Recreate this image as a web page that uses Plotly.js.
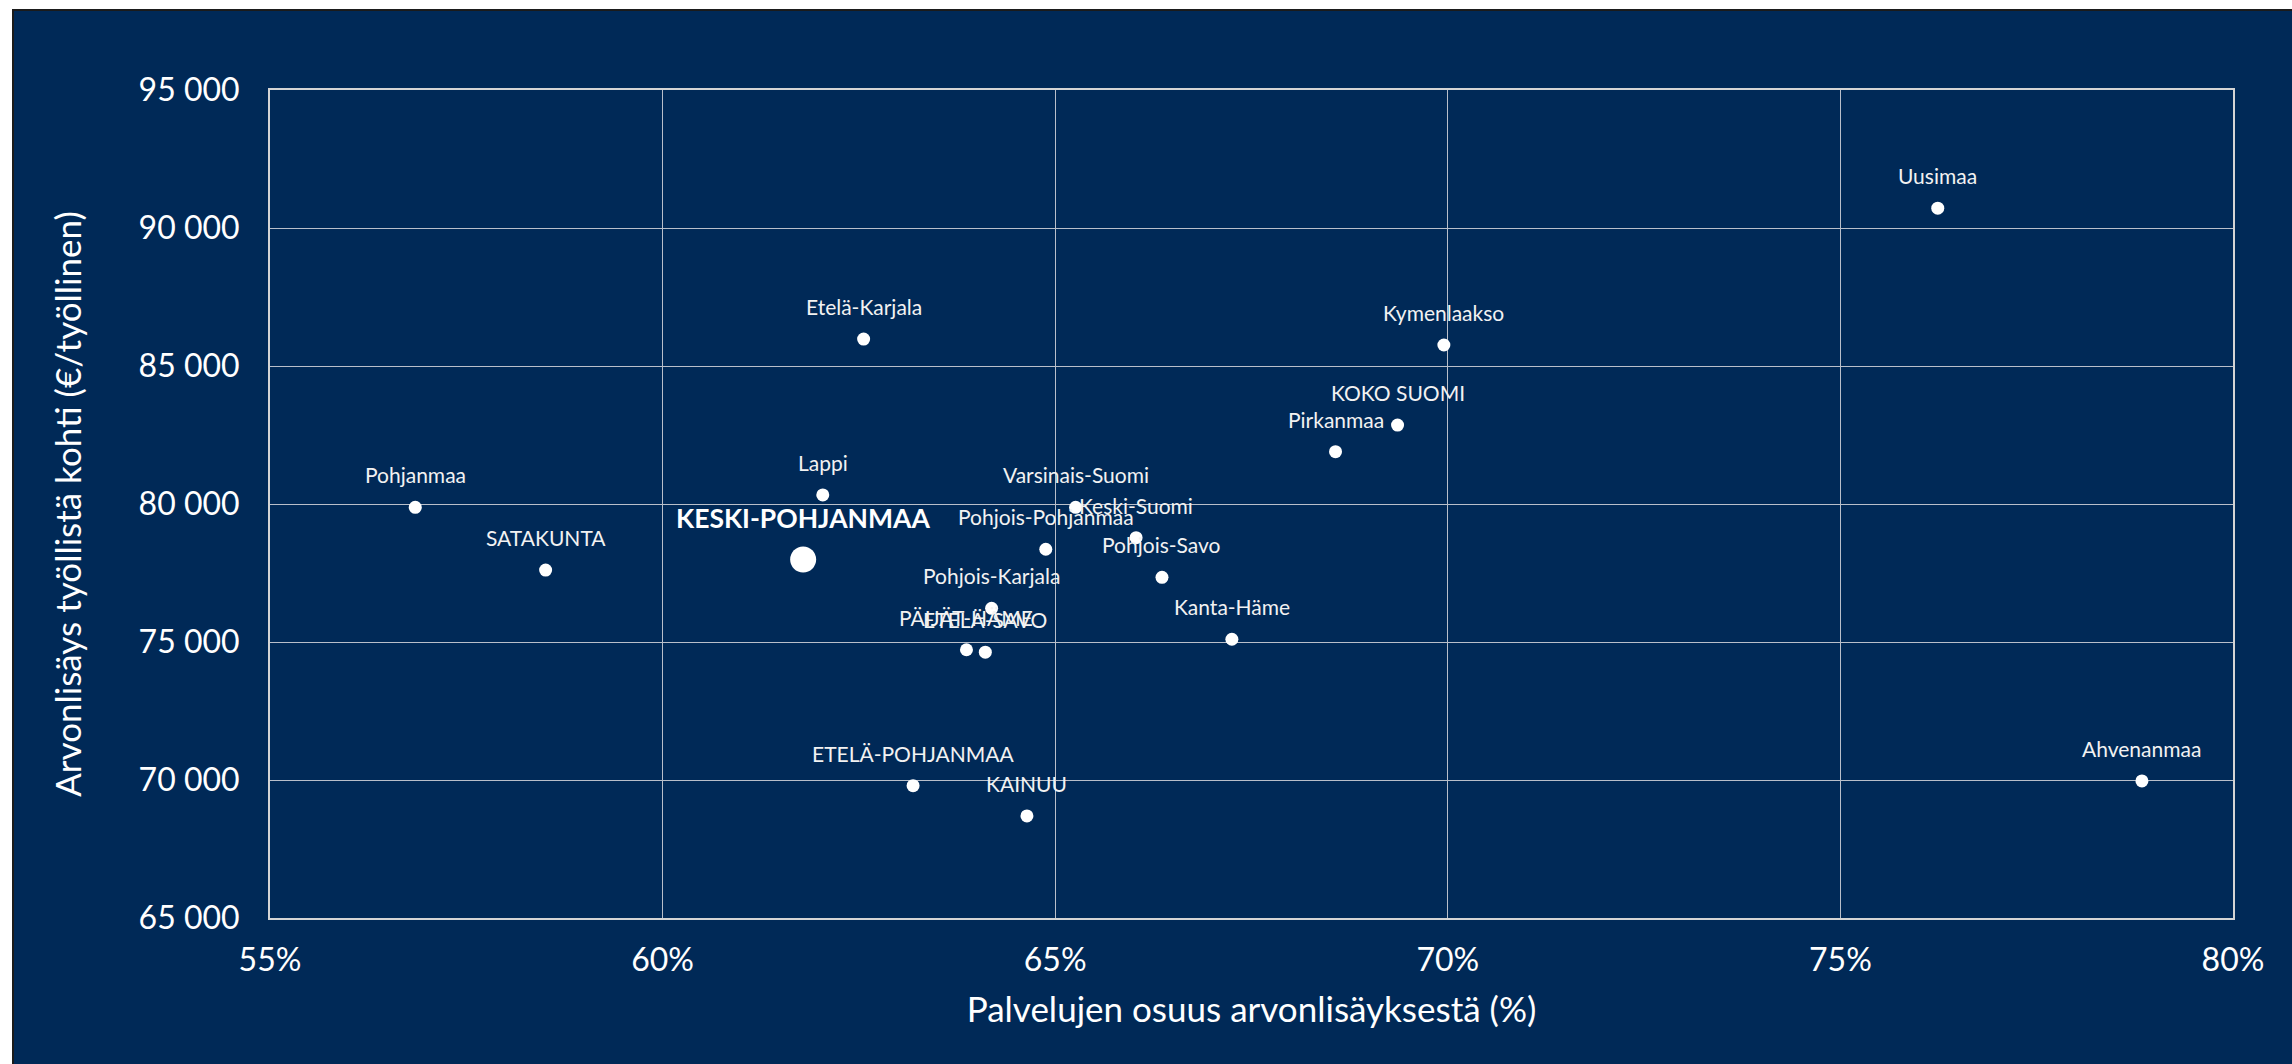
<!DOCTYPE html>
<html>
<head>
<meta charset="utf-8">
<script src="https://cdn.plot.ly/plotly-3.0.1.min.js"></script>
<style>html,body{margin:0;padding:0;background:#fff;}#chart{width:2292px;height:1064px;}</style>
</head>
<body>
<div id="chart"></div>
<script>
// Regions (maakunnat)
const regions = ['Uusimaa','Kymenlaakso','KOKO SUOMI','Pirkanmaa','Etelä-Karjala','Pohjanmaa','SATAKUNTA','Lappi','KESKI-POHJANMAA','Varsinais-Suomi','Pohjois-Pohjanmaa','Keski-Suomi','Pohjois-Savo','Pohjois-Karjala','Kanta-Häme','PÄIJÄT-HÄME','ETELÄ-SAVO','ETELÄ-POHJANMAA','KAINUU','Ahvenanmaa'];
// Services' share of value added (%)
const serviceShare = [76.24, 69.95, 69.36, 68.57, 62.56, 56.85, 58.51, 62.04, 61.79, 65.26, 64.88, 66.03, 66.36, 64.19, 67.25, 63.87, 64.11, 63.19, 64.64, 78.84];
// Value added per employed person (€)
const valueAdded = [90720, 85760, 82860, 81895, 85975, 79880, 77605, 80330, 77990, 79880, 78360, 78780, 77345, 76220, 75100, 74720, 74630, 69795, 68700, 69965];
const highlight = 'KESKI-POHJANMAA';

const xTickVals = [55, 60, 65, 70, 75, 80];
const xTickText = xTickVals.map(v => v + '%');
const yTickVals = [65000, 70000, 75000, 80000, 85000, 90000, 95000];

const idxAll = regions.map((r,i)=>i);
const idxOther = idxAll.filter(i=>regions[i]!==highlight);
const idxHi = idxAll.filter(i=>regions[i]===highlight);

const navy = '#002957';
const FONT = 'Lato, "Open Sans", sans-serif';

const traces = [
  {
    type:'scatter', mode:'markers',
    x: idxOther.map(i=>serviceShare[i]),
    y: idxOther.map(i=>valueAdded[i]),
    marker:{size:13, color:'#ffffff'},
    hoverinfo:'skip', cliponaxis:false
  },
  {
    type:'scatter', mode:'markers',
    x: idxHi.map(i=>serviceShare[i]),
    y: idxHi.map(i=>valueAdded[i]),
    marker:{size:26, color:'#ffffff'},
    hoverinfo:'skip', cliponaxis:false
  }
];

const annotations = idxAll.map(i => {
  const hi = regions[i] === highlight;
  return {
    x: serviceShare[i], y: valueAdded[i], xref:'x', yref:'y',
    text: hi ? '<b>' + regions[i] + '</b>' : regions[i],
    showarrow:false, xanchor:'center', yanchor:'bottom',
    yshift: hi ? 23 : 18,
    font: {family:FONT, size: hi ? 26.5 : 21, color: hi ? '#ffffff' : '#f2f2f2'}
  };
});

const L=270, R=59, T=90, B=146, W=2292, H=1064;
const pw = W-L-R, ph = H-T-B;

const layout = {
  width:W, height:H,
  margin:{l:L, r:R, t:T, b:B, pad:0},
  paper_bgcolor:'#ffffff',
  plot_bgcolor:navy,
  showlegend:false,
  separators:', ',
  font:{family:FONT, color:'#ffffff'},
  annotations: annotations,
  shapes:[{
    type:'rect', xref:'paper', yref:'paper', layer:'below',
    x0:(13-L)/pw, x1:(W+5-L)/pw,
    y0:-(H+5-(T+ph))/ph, y1:1+(T-10)/ph,
    fillcolor:navy, line:{color:'#1b1b1b', width:2}
  }],
  xaxis:{
    range:[55,80], tickvals:xTickVals, ticktext:xTickText,
    showgrid:true, gridcolor:'#b9bfca', gridwidth:1,
    showline:true, linecolor:'#d4d4d4', linewidth:2, mirror:true,
    zeroline:false, ticks:'', ticklabelstandoff:13,
    tickfont:{family:FONT, size:32, color:'#ffffff'},
    title:{text:'Palvelujen osuus arvonlisäyksestä (%)', font:{family:FONT, size:35, color:'#ffffff'}, standoff:20}
  },
  yaxis:{
    range:[65000,95000], tickvals:yTickVals, tickformat:',.0f',
    showgrid:true, gridcolor:'#b9bfca', gridwidth:1,
    showline:true, linecolor:'#d4d4d4', linewidth:2, mirror:true,
    zeroline:false, ticks:'', ticklabelstandoff:22,
    tickfont:{family:FONT, size:32, color:'#ffffff'},
    title:{text:'Arvonlisäys työllistä kohti (€/työllinen)', font:{family:FONT, size:35, color:'#ffffff'}, standoff:46}
  }
};

Plotly.newPlot('chart', traces, layout, {displayModeBar:false, staticPlot:true});
</script>
</body>
</html>
